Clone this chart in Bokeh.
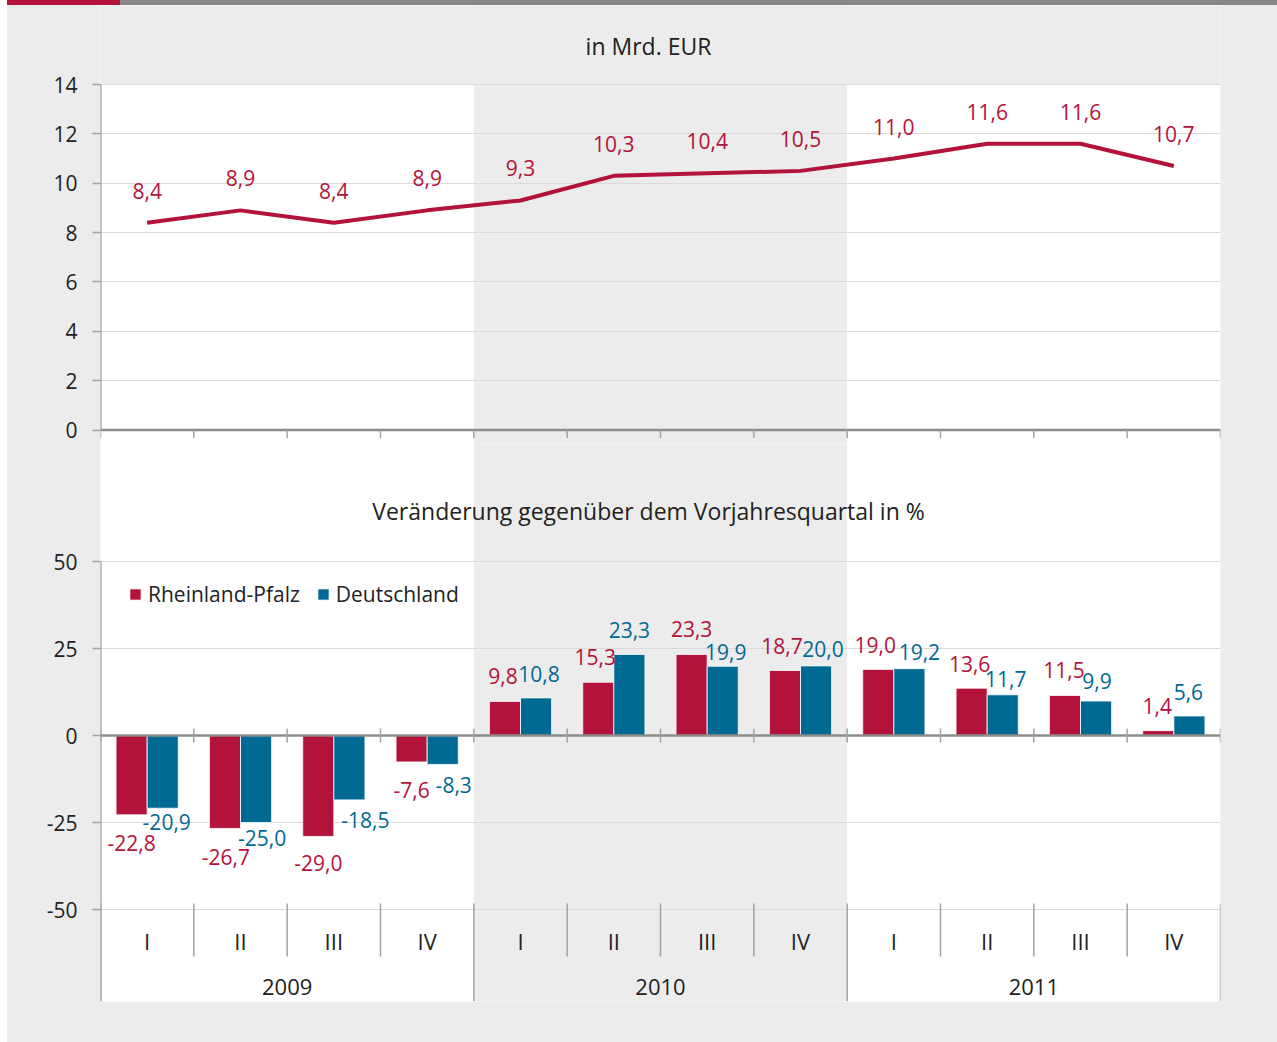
from bokeh.plotting import figure
from bokeh.layouts import column, row
from bokeh.models import (ColumnDataSource, Range1d, FixedTicker, BoxAnnotation,
                          Label, Legend, LegendItem, Div, Spacer)
from bokeh.embed import file_html
from bokeh.resources import INLINE
from bokeh.core.properties import value

# ---------------- data ----------------
years = ["2009", "2010", "2011"]
quarters = ["I", "II", "III", "IV"]
volume_bn_eur = [8.4, 8.9, 8.4, 8.9, 9.3, 10.3, 10.4, 10.5, 11.0, 11.6, 11.6, 10.7]
change_rp = [-22.8, -26.7, -29.0, -7.6, 9.8, 15.3, 23.3, 18.7, 19.0, 13.6, 11.5, 1.4]
change_de = [-20.9, -25.0, -18.5, -8.3, 10.8, 23.3, 19.9, 20.0, 19.2, 11.7, 9.9, 5.6]
series_names = ["Rheinland-Pfalz", "Deutschland"]
top_ticks = [0, 2, 4, 6, 8, 10, 12, 14]
bottom_ticks = [-50, -25, 0, 25, 50]
top_title = "in Mrd. EUR"
bottom_title = "Veränderung gegenüber dem Vorjahresquartal in %"

# label placement (pixel offsets, styling only)
rp_label_dx = [0, 1, 0, 0, -2, -3, 0, -3, -3, -2, -1, -1]
rp_label_dy = [28, 29, 27, 28, -25, -25, -25, -24, -24, -24, -25, -25]
de_label_dx = [4, 6, 16, 11, 3, 0, 3, 7, 10, 3, 1, -1]
de_label_dy = [14, 15, 20, 21, -24, -24, -14, -17, -17, -16, -20, -24]

# ---------------- style ----------------
FONT = "Open Sans"
BG = "#ebeceb"
RED = "#b3123a"
BLUE = "#006994"
STRIP_GRAY = "#878789"
AXIS = "#8c8c88"
TICK = "#a3a3a3"
GRID = "#dadada"
TEXT = "#222222"
W = 1270          # page x 7 .. 1277
ML, MR = 93, 57   # frame page x 100 .. 1220
SPLIT = 445       # page y where the top figure ends
OVERLAP = 1       # bottom figure overlaps the top one by this many px

def fmt(v):
    return f"{v:.1f}".replace(".", ",")

n = len(volume_bn_eur)
xc = [k + 0.5 for k in range(n)]
bounds = list(range(n + 1))

# ---------------- top coloured strip ----------------
strip = Div(text="", width=W, height=5, margin=0,
            styles={"background": "linear-gradient(to right, %s 0px, %s 113px, %s 113px, %s 100%%)"
                    % (RED, RED, STRIP_GRAY, STRIP_GRAY),
                    "overflow": "hidden"})

# ---------------- top chart (page y 5 .. SPLIT) ----------------
PPU_T = (429.5 - 84) / 14.0
y_top_end = 14 + (84 - 5) / PPU_T
y_top_start = 14 - (SPLIT - 84) / PPU_T

p1 = figure(width=W, height=SPLIT - 5, x_range=Range1d(0, n),
            y_range=Range1d(y_top_start, y_top_end),
            output_backend="svg", toolbar_location=None,
            min_border_left=ML, min_border_right=MR, min_border_top=0, min_border_bottom=0,
            x_axis_location=None, background_fill_color="white", border_fill_color=BG,
            outline_line_color=None)
p1.xgrid.visible = False
p1.add_layout(BoxAnnotation(left=4, right=8, fill_color=BG, fill_alpha=1,
                            line_color=None, level="image"))
p1.add_layout(BoxAnnotation(bottom=14, fill_color=BG, fill_alpha=1,
                            line_color=None, level="image"))
p1.yaxis.ticker = FixedTicker(ticks=top_ticks)
p1.yaxis.axis_line_color = None
p1.yaxis.major_tick_line_color = TICK
p1.yaxis.major_tick_line_width = 1.5
p1.yaxis.major_tick_out = 8
p1.yaxis.major_tick_in = 0
p1.yaxis.minor_tick_line_color = None
p1.yaxis.major_label_standoff = 15
p1.yaxis.major_label_text_font = FONT
p1.yaxis.major_label_text_font_size = "21px"
p1.yaxis.major_label_text_color = TEXT
p1.ygrid.ticker = FixedTicker(ticks=top_ticks)
p1.ygrid.grid_line_color = GRID
p1.ygrid.grid_line_width = 1.2

p1.segment(x0=[0], y0=[0], x1=[0], y1=[14], line_color=AXIS, line_width=2)
p1.segment(x0=[0], y0=[0], x1=[n], y1=[0], line_color=AXIS, line_width=2.5)
p1.segment(x0=bounds, y0=[0] * len(bounds), x1=bounds, y1=[-8 / PPU_T] * len(bounds),
           line_color=TICK, line_width=1.5)

src1 = ColumnDataSource(dict(x=xc, y=volume_bn_eur, t=[fmt(v) for v in volume_bn_eur]))
p1.line("x", "y", source=src1, line_color=RED, line_width=4)
p1.text("x", "y", text="t", source=src1, y_offset=-32, text_align="center",
        text_baseline="middle", text_color=RED, text_font=value(FONT),
        text_font_size="21px")

p1.add_layout(Label(x=548, y=SPLIT - 45, x_units="screen", y_units="screen",
                    text=top_title, text_align="center", text_baseline="middle",
                    text_font=FONT, text_font_size="23px", text_color=TEXT))

# ---------------- bottom chart (page y SPLIT-OVERLAP .. 1042) ----------------
B_TOP = SPLIT - OVERLAP
PPU_B = (909 - 561) / 100.0
y_end = 50 + (561 - B_TOP) / PPU_B
y_start = -50 - (1001 - 909) / PPU_B

p2 = figure(width=W, height=1042 - B_TOP, x_range=Range1d(0, n),
            y_range=Range1d(y_start, y_end),
            output_backend="svg", toolbar_location=None,
            min_border_left=ML, min_border_right=MR, min_border_top=0, min_border_bottom=41,
            x_axis_location=None, background_fill_color="white", border_fill_color=BG,
            outline_line_color=None, margin=(-OVERLAP, 0, 0, 0))
p2.xgrid.visible = False
p2.add_layout(BoxAnnotation(left=4, right=8, fill_color=BG, fill_alpha=1,
                            line_color=None, level="image"))
p2.yaxis.ticker = FixedTicker(ticks=bottom_ticks)
p2.yaxis.major_label_overrides = {t: str(t) for t in bottom_ticks}
p2.yaxis.axis_line_color = None
p2.yaxis.major_tick_line_color = TICK
p2.yaxis.major_tick_line_width = 1.5
p2.yaxis.major_tick_out = 8
p2.yaxis.major_tick_in = 0
p2.yaxis.minor_tick_line_color = None
p2.yaxis.major_label_standoff = 15
p2.yaxis.major_label_text_font = FONT
p2.yaxis.major_label_text_font_size = "21px"
p2.yaxis.major_label_text_color = TEXT
p2.ygrid.ticker = FixedTicker(ticks=bottom_ticks)
p2.ygrid.grid_line_color = GRID
p2.ygrid.grid_line_width = 1.2

p2.add_layout(Label(x=548, y=1001 - 510, x_units="screen", y_units="screen",
                    text=bottom_title, text_align="center", text_baseline="middle",
                    text_font=FONT, text_font_size="23px", text_color=TEXT))

bw = 1.0 / 3.0
src_rp = ColumnDataSource(dict(x=[k + 0.5 - bw / 2 for k in range(n)], top=change_rp,
                               t=[fmt(v) for v in change_rp],
                               dx=rp_label_dx, dy=rp_label_dy))
src_de = ColumnDataSource(dict(x=[k + 0.5 + bw / 2 for k in range(n)], top=change_de,
                               t=[fmt(v) for v in change_de],
                               dx=de_label_dx, dy=de_label_dy))
r_rp = p2.vbar(x="x", top="top", bottom=0, width=bw, source=src_rp,
               fill_color=RED, line_color="white", line_width=0.8)
r_de = p2.vbar(x="x", top="top", bottom=0, width=bw, source=src_de,
               fill_color=BLUE, line_color="white", line_width=0.8)

p2.segment(x0=[0], y0=[y_start], x1=[0], y1=[50], line_color=AXIS, line_width=2)
p2.segment(x0=[0], y0=[0], x1=[n], y1=[0], line_color=AXIS, line_width=2.5)
p2.segment(x0=bounds, y0=[7 / PPU_B] * len(bounds), x1=bounds, y1=[-7 / PPU_B] * len(bounds),
           line_color=TICK, line_width=1.5)

p2.text("x", "top", text="t", source=src_rp, x_offset="dx", y_offset="dy",
        text_align="center", text_baseline="middle", text_color=RED,
        text_font=value(FONT), text_font_size="21px")
p2.text("x", "top", text="t", source=src_de, x_offset="dx", y_offset="dy",
        text_align="center", text_baseline="middle", text_color=BLUE,
        text_font=value(FONT), text_font_size="21px")

# category axis drawn inside the (white) plot area
q_top = -50 + 6 / PPU_B
q_bot = -50 - (956 - 909) / PPU_B
inner = [b for b in bounds if b % 4 != 0]
outer = [b for b in bounds if b % 4 == 0]
p2.segment(x0=inner, y0=[q_top] * len(inner), x1=inner, y1=[q_bot] * len(inner),
           line_color=TICK, line_width=1.5)
p2.segment(x0=outer, y0=[q_top] * len(outer), x1=outer, y1=[y_start] * len(outer),
           line_color=TICK, line_width=1.5)
q_labels = quarters * len(years)
p2.text(x=xc, y=[-50 - 31 / PPU_B] * n, text=q_labels, text_align="center",
        text_baseline="middle", text_color=TEXT, text_font=value(FONT),
        text_font_size="22px")
p2.text(x=[4 * i + 2 for i in range(len(years))], y=[-50 - 77 / PPU_B] * len(years),
        text=years, text_align="center", text_baseline="middle", text_color=TEXT,
        text_font=value(FONT), text_font_size="22px")

legend = Legend(items=[LegendItem(label=series_names[0], renderers=[r_rp]),
                       LegendItem(label=series_names[1], renderers=[r_de])],
                orientation="horizontal", location=(28, 393),
                glyph_width=14, glyph_height=14, label_standoff=6, spacing=16,
                padding=0, margin=0, border_line_color=None, background_fill_alpha=0,
                label_text_font=FONT, label_text_font_size="21px",
                label_text_color=TEXT, label_height=20)
p2.add_layout(legend)

charts = column(strip, p1, p2, spacing=0, margin=0, styles={"background-color": BG})
layout = row(Spacer(width=7, height=1042, margin=0), charts, spacing=0, margin=0)
open("out.html", "w").write(file_html(layout, INLINE))
